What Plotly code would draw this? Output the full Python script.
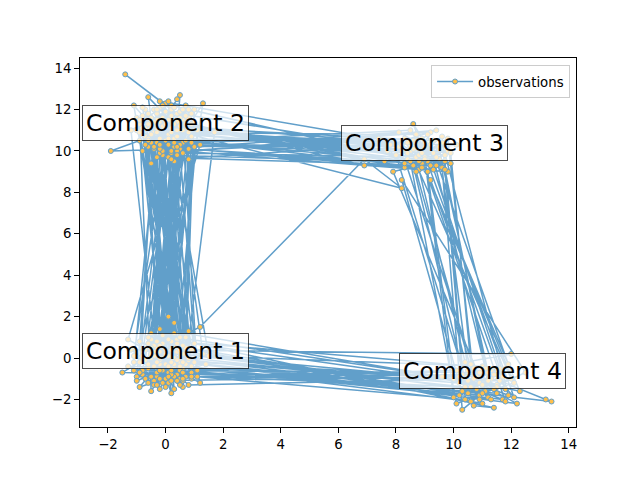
import plotly.graph_objects as go

obs = [
    (0.2,-0.5),(-0.4,0.3),(0.6,-1.1),
    (0.1,10.8),(-0.3,11.5),
    (0.4,0.9),(-0.2,-0.3),
    (0.5,12.7),(0.4,12.5),(-0.6,10.2),
    (8.9,9.4),(9.3,10.5),
    (-0.5,11.2),
    (0.1,-1.2),(0.9,-0.7),(-0.8,-0.8),
    (10.6,-1.4),(11.3,-0.6),(12.1,-1.9),
    (8.6,11.3),(9.6,9.2),
    (10.3,-2.5),(10.9,-1.8),
    (-0.3,0.5),(0.3,1.7),
    (0.8,9.6),(0.4,11.8),(-1.4,13.7),(0.2,12.0),
    (0.0,0.2),(-1.1,-0.2),
    (-0.2,12.1),(0.6,10.4),
    (9.8,10.0),(8.4,9.6),(6.9,9.3),
    (0.9,11.3),
    (0.7,0.5),(-0.5,1.2),(0.2,-1.7),
    (-0.7,12.0),(0.3,9.5),
    (1.5,0.1),
    (11.0,-0.4),(10.0,-1.0),
    (9.1,9.0),(8.7,10.8),
    (-0.4,10.9),(1.2,10.3),
    (-0.9,0.8),(0.5,-0.2),
    (0.0,11.9),(-1.2,11.0),
    (-0.2,-1.5),(0.8,1.3),(-1.5,-0.7),
    (11.6,-1.1),(13.2,-2.0),(13.4,-2.1),
    (0.3,0.0),(-0.7,-1.0),
    (0.7,12.2),(-0.1,9.8),
    (9.9,9.4),(8.0,9.8),
    (10.7,-2.3),(11.4,-2.4),
    (1.0,0.7),
    (0.5,10.1),(-1.9,10.0),(-0.9,10.5),
    (0.1,2.0),(-0.3,-0.9),
    (1.3,12.3),(0.2,9.9),
    (9.4,11.0),(7.8,10.3),
    (1.7,10.9),
    (0.6,-1.4),(-1.2,0.4),
    (12.0,0.2),(10.4,-0.2),
    (8.8,9.1),
    (0.4,11.4),(-0.8,11.7),
    (-0.1,-0.6),(0.9,-1.0),
    (0.3,10.6),
    (10.1,10.3),(8.5,10.0),(9.2,8.6),
    (11.8,-1.5),(9.6,-0.9),
    (-0.4,-1.1),(0.2,0.8),(1.2,1.5),
    (6.9,9.6),(8.2,8.2),
    (-0.6,11.3),(1.0,12.0),
    (0.7,-0.3),
    (0.1,9.7),(-0.3,10.4),
    (7.4,10.6),(8.3,9.2),
    (-1.0,11.6),
    (0.4,-0.8),(-0.9,-1.4),(0.2,0.4),
    (11.1,-1.6),(12.5,-0.7),
    (8.2,8.6),
    (10.2,-1.2),(11.7,-2.0),
    (-0.5,0.0),(1.1,-0.6),
    (0.6,11.0),(-0.2,12.4),
    (9.0,10.2),(8.1,10.9),
    (-0.8,10.0),
    (0.0,-1.0),(-1.3,-0.4),
    (10.8,-0.9),(11.5,-1.3),
    (-0.1,1.1),(0.6,0.2),
    (0.9,10.7),(-0.5,9.4),
    (1.2,-1.2),(-0.2,-0.1),
    (-0.3,11.8),(0.2,11.1),
    (9.7,9.8),(8.6,9.3),
    (10.5,-1.7),(11.9,-0.3),
    (9.3,9.9),
    (0.1,10.3),(-1.1,12.2),
    (0.5,-1.3),(-0.6,0.7),
    (0.8,11.6),
    (-0.4,-0.4),(0.3,-0.9),
    (-0.7,10.7),(0.4,10.0),
    (8.9,10.6),(9.5,9.6),(7.9,9.0),
    (11.2,-1.9),(10.1,-0.6),
    (0.7,-0.9),(-0.1,0.6),
    (0.0,12.3),(-0.9,11.3),
    (-0.5,-1.6),(0.4,0.3),
    (1.1,11.0),
    (8.7,9.7),(9.2,10.9),
    (-0.2,9.9),
    (0.8,-0.1),(-1.0,-0.9),
    (11.4,-0.8),(10.6,-2.1),
    (-0.3,-0.2),(0.5,1.0),
    (-0.6,12.6),(0.3,11.3),
    (0.1,-0.7),
    (0.5,11.9),(-0.4,10.1),
    (9.8,9.0),(8.4,10.4),
    (0.2,10.9),
    (-0.8,0.1),(0.6,-0.5),(-0.2,1.4),
    (10.9,-1.2),(12.3,-1.6),
    (8.8,9.8),(9.6,10.7),
    (10.3,-0.8),(11.0,-2.2),
    (0.9,0.4),(-0.4,-1.3),
    (-0.1,11.6),(0.7,10.5),
    (-1.3,0.9),(0.3,-0.4),
    (0.4,9.8),(-0.7,11.1),
    (9.1,9.5),(8.2,10.0),
    (10.7,-0.5),(11.5,-1.7),
    (-0.6,-0.5),(0.1,0.9),
    (-0.2,10.6),(1.0,11.4),
    (0.5,-1.0),(-0.9,-0.2),
    (0.2,12.2),
    (9.4,9.3),(8.5,11.0),
    (-0.5,10.4),
    (0.0,-0.3),(0.8,-1.3),
    (11.3,-1.0),(10.0,-1.9),
    (9.0,9.7),
    (-0.3,11.0),(0.6,12.0),
    (-0.1,-1.2),(1.3,0.2),
    (0.3,10.2),(-0.8,10.8),
    (0.4,-0.1),(-0.7,0.4),
    (10.8,-1.5),(12.0,-1.0),
    (8.3,10.6),(9.7,9.5),
    (10.4,-2.0),
    (0.2,-0.8),(-1.1,0.1),
    (0.1,11.5),(-0.4,12.0),
    (8.9,9.9),(7.6,9.5),
    (-0.1,10.0),
    (0.6,0.6),(-0.3,-0.7),
    (1.0,10.2),(-0.6,11.8),
    (0.3,-1.5),(-0.5,0.9),
    (11.6,-0.5),(10.5,-1.1),
    (-0.2,0.3),(0.9,-0.9),
    (0.0,10.5),(0.5,11.2),
    (9.2,10.3),(8.7,9.0),
    (10.9,-2.0),(11.2,-0.7),
    (9.5,10.1),(8.3,9.4),
    (-0.9,11.5),(0.4,10.7),
    (0.1,0.1),(-0.6,-1.2),
    (0.7,11.7),(-0.2,10.1),
    (-0.4,0.6),(0.5,-0.6),(1.4,-0.3),
    (10.3,-1.6),(11.7,-0.9),
    (9.0,10.4),
    (0.2,9.6),(-0.5,11.6),
    (0.3,1.2),(-0.8,-0.6),
    (0.8,10.9),
    (0.0,-1.4),(-0.2,0.0),
    (11.0,-1.3),(12.2,-2.2),
    (0.6,-0.2),(-1.0,-1.1),
    (-0.3,12.0),(0.5,10.3),
    (8.6,10.1),(9.9,9.9),
    (10.6,-0.3),(11.3,-2.0),
    (-0.1,0.7),(0.4,-1.1),
    (-0.7,10.3),(0.2,11.7),
    (0.9,-0.4),
    (-0.3,10.9),(0.6,11.5),
    (-0.5,-0.9),(0.3,0.5),
    (-0.1,12.2),(0.8,10.1),
    (9.3,9.1),(8.1,10.2),
    (0.4,11.0),
    (-0.2,-0.6),(1.0,-0.2),
    (10.2,-0.9),(11.9,-1.8),
    (9.6,10.4),(8.8,9.5),
    (-0.6,10.6),(0.1,12.4),
    (0.7,1.0),(-0.3,-1.3),
    (0.3,10.4),(-1.0,11.0),
    (8.4,9.9),(9.1,10.8),
    (11.1,-0.5),(10.4,-1.4),
    (-0.5,0.2),(0.2,-1.1),
    (0.9,11.8),(-0.2,10.3),
    (0.5,0.4),(-0.9,-0.7),
    (-0.4,11.4),(0.6,9.9),
    (9.4,9.7),(7.7,10.0),
    (-0.1,11.2),
    (0.3,-0.3),(-0.6,1.0),
    (11.5,-1.4),(10.1,-2.2),
    (8.5,9.5),(9.8,10.6),
    (10.7,-1.0),
    (0.1,-0.9),(-0.4,0.1),
    (0.2,10.0),(-0.8,12.1),
    (0.8,0.0),(-0.2,-1.0),
    (0.5,11.6),(-0.3,9.7),
    (9.2,9.3),(8.6,10.5),
    (12.1,-1.2),(11.0,-1.7),
    (-0.6,-0.3),(0.4,0.7),
    (-0.5,10.8),(0.7,11.3),
    (0.0,0.4),(1.1,-0.9),
    (0.1,10.6),
    (8.9,9.2),(9.5,10.2),
    (10.5,-0.6),(11.4,-1.5),
    (0.6,-0.7),(-0.7,-0.1),
    (0.3,12.1),(-0.6,10.5),
    (-0.3,0.8),(0.2,-0.2),
    (0.9,10.4),(-0.2,11.4),
    (9.0,9.6),(8.2,10.3),
    (-0.4,10.2),
    (0.5,-0.4),(-1.1,-0.6),
    (10.9,-0.7),(11.8,-2.1),
    (8.7,10.4),(9.7,9.1),
    (11.2,-1.1),(10.2,-1.8),
    (0.1,-0.4),(-0.5,0.5),
    (0.0,11.3),(0.8,12.0),
    (-0.2,0.6),(0.6,-1.0),
    (-0.9,10.9),(0.4,10.2),
    (0.2,-0.6),
]
obs_x = [p[0] for p in obs]
obs_y = [p[1] for p in obs]

# component labels and their means
comp_labels = ["Component 1", "Component 2", "Component 3", "Component 4"]
comp_x = [0.0, 0.0, 9.0, 11.0]
comp_y = [0.0, 11.0, 10.0, -1.0]

x_ticks = [-2, 0, 2, 4, 6, 8, 10, 12, 14]
y_ticks = [-2, 0, 2, 4, 6, 8, 10, 12, 14]

BLUE = "#1f77b4"
FONT = "DejaVu Sans"

fig = go.Figure()
fig.add_trace(go.Scatter(
    x=obs_x, y=obs_y, mode="lines+markers", name="observations",
    opacity=0.7,
    line=dict(color=BLUE, width=1.5),
    marker=dict(size=5, color="orange", line=dict(color=BLUE, width=1)),
))

for lab, mx, my in zip(comp_labels, comp_x, comp_y):
    fig.add_annotation(
        x=mx, y=my, text=lab, showarrow=False,
        xanchor="center", yanchor="middle", yshift=7.5,
        font=dict(family=FONT, size=23.5, color="black"),
        bgcolor="rgba(255,255,255,0.7)",
        bordercolor="rgba(0,0,0,0.7)", borderwidth=1, borderpad=3,
    )

axis_common = dict(
    showgrid=False, zeroline=False, showline=True, linecolor="black",
    linewidth=1, mirror=True, ticks="outside", ticklen=4.9, tickwidth=1,
    tickcolor="black", tickfont=dict(family=FONT, size=13.3, color="black"),
)
fig.update_xaxes(range=[-2.97, 14.25], tickvals=x_ticks,
                 ticktext=[str(v).replace("-", "\u2212") for v in x_ticks],
                 **axis_common)
fig.update_yaxes(range=[-3.33, 14.49], tickvals=y_ticks,
                 ticktext=[str(v).replace("-", "\u2212") for v in y_ticks],
                 **axis_common)

fig.update_layout(
    width=640, height=480,
    margin=dict(l=80, r=64, t=58, b=53),
    paper_bgcolor="white", plot_bgcolor="white",
    font=dict(family=FONT, color="black"),
    showlegend=True,
    legend=dict(
        x=0.988, y=0.98, xanchor="right", yanchor="top",
        bgcolor="rgba(255,255,255,0.8)", bordercolor="#cccccc", borderwidth=1,
        font=dict(family=FONT, size=13.3, color="black"),
        itemwidth=36,
    ),
)

fig.write_html("out.html")
